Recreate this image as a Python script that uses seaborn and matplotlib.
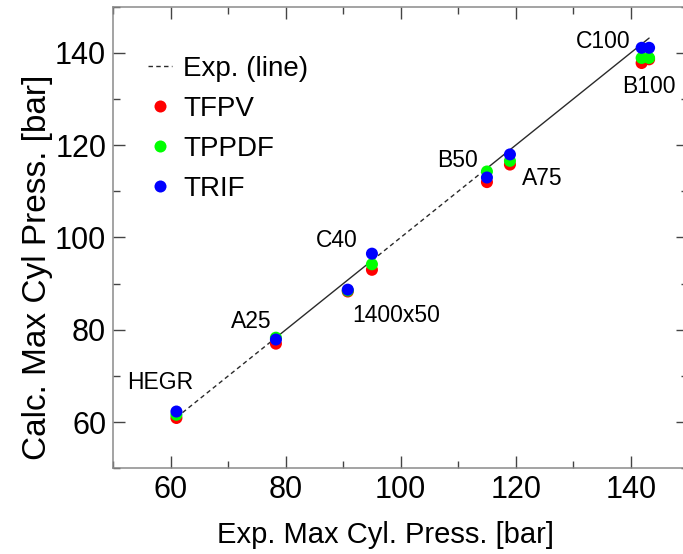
import matplotlib
matplotlib.use("Agg")
import matplotlib.pyplot as plt
import pandas as pd
import seaborn as sns
from matplotlib.ticker import MultipleLocator

# Operating cases and measured peak cylinder pressure [bar]
cases = ["HEGR", "A25", "1400x50", "C40", "B50", "A75", "C100", "B100"]
exp_pressure = [61.0, 78.3, 90.8, 95.0, 115.0, 119.0, 141.9, 143.2]

# Calculated peak cylinder pressure [bar] for each model
tfpv = [60.9, 77.0, 88.3, 93.0, 112.0, 115.8, 137.8, 138.6]
tppdf = [61.6, 78.3, 88.5, 94.2, 114.3, 116.6, 138.9, 138.9]
trif = [62.3, 77.9, 88.7, 96.5, 113.0, 118.0, 141.1, 141.1]

models = ["TFPV", "TPPDF", "TRIF"]
model_colors = ["#ff0000", "#00ff00", "#0000ff"]

# Text offsets (points) of the case labels from the TRIF point
label_offsets = {
    "HEGR": (-12, 20.7),
    "A25": (-17.8, 13),
    "1400x50": (34.8, -18.7),
    "C40": (-25.2, 9.4),
    "B50": (-21.4, 12),
    "A75": (23, -17.3),
    "C100": (-27.9, 4.5),
    "B100": (-0.2, -27.9),
}

# Line-style pieces of the y = x reference line (index ranges into exp_pressure)
line_pieces = [(0, 1, "dashed"), (1, 3, "solid"), (3, 4, "dashed"), (4, 7, "solid")]

sns.set_theme(style="ticks")
plt.rcParams["font.family"] = ["Liberation Sans", "DejaVu Sans"]
plt.rcParams["text.color"] = "black"
plt.rcParams["axes.labelcolor"] = "black"
plt.rcParams["xtick.labelcolor"] = "black"
plt.rcParams["ytick.labelcolor"] = "black"

fig = plt.figure(figsize=(6.83, 5.54), dpi=100)
ax = fig.add_axes([0.1657, 0.1547, 0.8419, 0.8332])

df = pd.DataFrame({
    "exp": exp_pressure * 3,
    "calc": tfpv + tppdf + trif,
    "model": [m for m in models for _ in cases],
})

# Experimental reference line
line_handle = None
for i0, i1, style in line_pieces:
    xs = [exp_pressure[i0], exp_pressure[i1]]
    ls = (0, (3.2, 2.4)) if style == "dashed" else "-"
    (ln,) = ax.plot(xs, xs, color="#2a2a2a", lw=1.0, linestyle=ls, zorder=2)
    if style == "dashed" and line_handle is None:
        line_handle = ln

sns.scatterplot(
    data=df, x="exp", y="calc", hue="model",
    palette=dict(zip(models, model_colors)),
    s=75, linewidth=0, ax=ax, zorder=3, legend=True,
)

leg = ax.get_legend()
handles = list(leg.legend_handles)
labels = [t.get_text() for t in leg.get_texts()]
leg.remove()
ax.legend(
    [line_handle] + handles, ["Exp. (line)"] + labels,
    loc="upper left", bbox_to_anchor=(0.0605, 0.893),
    frameon=False, fontsize=20, handlelength=0.86, handletextpad=0.4,
    labelspacing=0.5, borderaxespad=0, borderpad=0, labelcolor="black",
)

for case, x, y in zip(cases, exp_pressure, trif):
    ax.annotate(case, (x, y), xytext=label_offsets[case], textcoords="offset points",
                ha="center", va="center", fontsize=16.5, color="black")

ax.set_xlim(50, 150)
ax.set_ylim(50, 150)
for axis in (ax.xaxis, ax.yaxis):
    axis.set_major_locator(MultipleLocator(20))
    axis.set_minor_locator(MultipleLocator(10))

ax.tick_params(which="both", direction="in", top=True, right=True,
               color="#444444", width=1.0)
ax.tick_params(which="major", length=8.6, labelsize=22, pad=5)
ax.tick_params(which="minor", length=4.8)

for sp in ax.spines.values():
    sp.set_color("#8a8a8a")
    sp.set_linewidth(1.1)

ax.set_xlabel("Exp. Max Cyl. Press. [bar]", fontsize=21)
ax.set_ylabel("Calc. Max Cyl Press. [bar]", fontsize=24)
ax.xaxis.set_label_coords(0.4736, -0.1445)
ax.xaxis.label.set_va("center")
ax.yaxis.set_label_coords(-0.1308, 0.436)
ax.yaxis.label.set_va("center")

fig.savefig("out.png", dpi=100)
